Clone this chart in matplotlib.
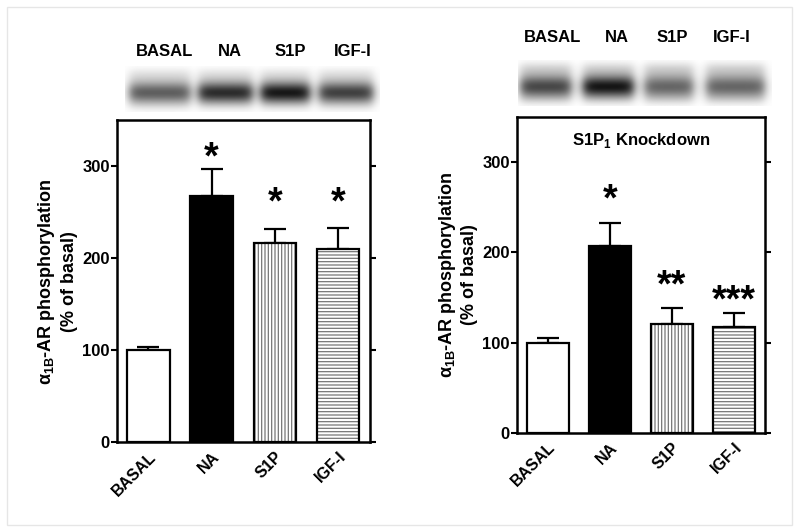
import numpy as np
import matplotlib
matplotlib.use("Agg")
import matplotlib.pyplot as plt

plt.rcParams['font.family'] = ['Liberation Sans', 'DejaVu Sans']
plt.rcParams['font.weight'] = 'bold'
plt.rcParams['hatch.linewidth'] = 0.9

# Data
categories = ['BASAL', 'NA', 'S1P', 'IGF-I']
left_values = [100, 268, 216, 210]
left_errors = [3.5, 29, 16, 23]
left_stars = ['', '*', '*', '*']
left_star_y = [0, 320, 271, 271]
right_values = [100, 207, 121, 117]
right_errors = [5, 26, 18, 16]
right_stars = ['', '*', '**', '***']
right_star_y = [0, 270, 174, 158]
# blot band darkness per lane
left_band = [0.48, 0.68, 0.76, 0.60]
right_band = [0.50, 0.70, 0.38, 0.38]

fills = ['white', 'black', 'white', 'white']
hatches = [None, None, '|||||', '-----']

fig = plt.figure(figsize=(8, 5.32), dpi=100)

# faint frame around the figure
fig.patches.append(plt.Rectangle((0.009, 0.013), 0.981, 0.974, transform=fig.transFigure,
                                 fill=False, edgecolor='#e6e6e6', linewidth=1))

ylab = 'α$_{\\mathregular{1B}}$-AR phosphorylation\n(% of basal)'


def draw_panel(ax, values, errors, stars, star_y, title=None):
    x = np.arange(len(categories))
    w = 0.67
    for i in range(len(categories)):
        if hatches[i]:
            ax.bar(x[i], values[i], w, color='white', edgecolor='#777777',
                   hatch=hatches[i], linewidth=0, zorder=2)
            ax.bar(x[i], values[i], w, fill=False, edgecolor='black', linewidth=1.6, zorder=3)
        else:
            ax.bar(x[i], values[i], w, color=fills[i], edgecolor='black', linewidth=1.6, zorder=3)
    ax.errorbar(x, values, yerr=[np.zeros(len(x)), errors], fmt='none', ecolor='black',
                elinewidth=1.6, capsize=8, capthick=1.6, zorder=1)
    for i, s in enumerate(stars):
        if s:
            ax.annotate(s, (x[i], star_y[i]), xytext=(0, -15), textcoords='offset points',
                        ha='center', va='baseline', fontsize=27, fontweight='bold')
    ax.set_xlim(-0.5, 3.5)
    ax.set_ylim(0, 350)
    ax.set_yticks([0, 100, 200, 300])
    ax.set_xticks(x)
    ax.set_xticklabels(categories, rotation=45, ha='right', rotation_mode='anchor',
                       fontsize=11.5, fontweight='bold')
    ax.tick_params(axis='x', length=0, pad=5)
    ax.tick_params(axis='y', direction='out', length=4, width=1.5, labelsize=12,
                   right=True, pad=1)
    for sp in ax.spines.values():
        sp.set_linewidth(1.8)
    ax.set_ylabel(ylab, fontsize=13, fontweight='bold', linespacing=1.25)
    ax.yaxis.set_label_coords(-0.155, 0.5)
    if title:
        ax.text(0.5, 0.925, title, transform=ax.transAxes, ha='center', va='center',
                fontsize=12, fontweight='bold')


def draw_blot(bax, band, centers, widths, bg):
    W, H = 260, 44
    xs = np.arange(W)[None, :]
    ys = np.arange(H)[:, None]
    dark = np.zeros((H, W))
    for c, wd, b in zip(centers, widths, band):
        lane = 1 / (1 + np.exp(-(xs - (c - wd / 2)) / 3.0)) * 1 / (1 + np.exp((xs - (c + wd / 2)) / 3.0))
        vert = 1 / (1 + np.exp(-(ys - 4) / 2.5)) * 1 / (1 + np.exp((ys - (H - 4)) / 2.5))
        bandy = np.exp(-((ys - H * 0.57) / 10.0) ** 2)
        dark += lane * vert * (bg + b * bandy)
    img = 1 - np.clip(dark, 0, 0.95)
    bax.imshow(img, cmap='gray', vmin=0, vmax=1, aspect='auto', interpolation='bilinear')
    bax.axis('off')


# left panel
ax1 = fig.add_axes([0.146, 0.169, 0.316, 0.605])
draw_panel(ax1, left_values, left_errors, left_stars, left_star_y)

b1 = fig.add_axes([125 / 800, 1 - 112 / 532, 255 / 800, 46 / 532])
draw_blot(b1, left_band, [35, 102, 163, 225], [62, 55, 50, 55], 0.15)
for lbl, px in zip(categories, [165, 230, 290, 353]):
    fig.text(px / 800, 1 - 52 / 532, lbl, ha='center', va='center', fontsize=12, fontweight='bold')

# right panel
ax2 = fig.add_axes([0.646, 0.186, 0.310, 0.594])
draw_panel(ax2, right_values, right_errors, right_stars, right_star_y,
           title='S1P$_{\\mathregular{1}}$ Knockdown')

b2 = fig.add_axes([518 / 800, 1 - 106 / 532, 254 / 800, 46 / 532])
draw_blot(b2, right_band, [28, 92, 154, 222], [52, 52, 50, 60], 0.22)
for lbl, px in zip(categories, [553, 617, 672, 732]):
    fig.text(px / 800, 1 - 38 / 532, lbl, ha='center', va='center', fontsize=12, fontweight='bold')

fig.savefig('out.png', dpi=100)
